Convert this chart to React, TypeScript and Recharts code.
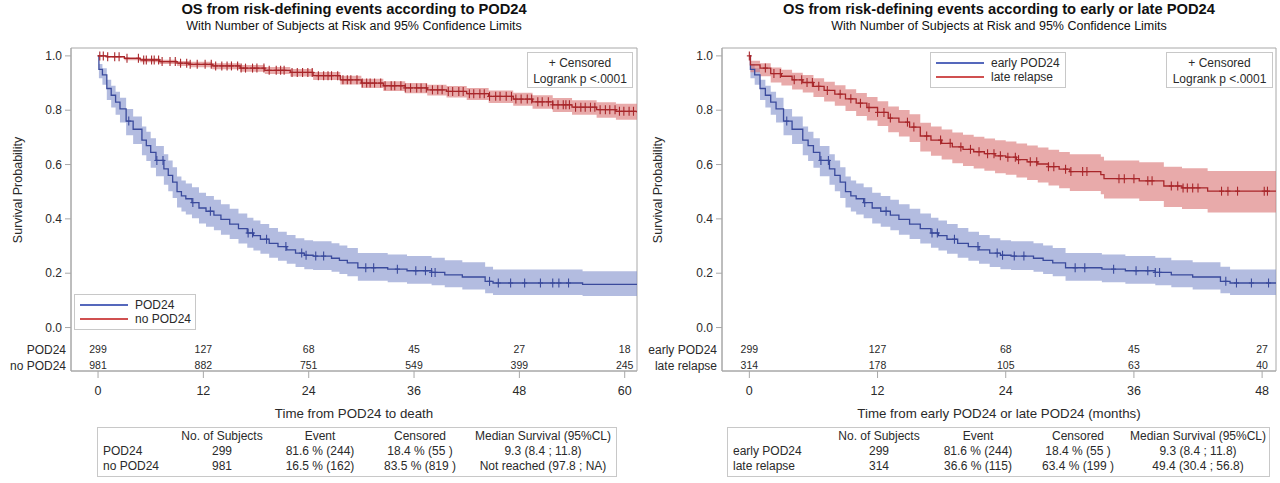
import React from 'react';
import { ComposedChart, Area, Line, Scatter, XAxis, YAxis, ReferenceArea } from 'recharts';

// Kaplan-Meier estimates: [month, survival, lower 95% CL, upper 95% CL]
const pod24Km: [number, number, number, number][] = [
  [0, 1.0, 1.0, 1.0],
  [0.1, 0.95, 0.918, 0.97],
  [0.5, 0.93, 0.894, 0.954],
  [1.0, 0.88, 0.838, 0.912],
  [1.5, 0.855, 0.81, 0.89],
  [2.0, 0.83, 0.783, 0.868],
  [2.5, 0.805, 0.755, 0.846],
  [3.2, 0.76, 0.708, 0.804],
  [4.0, 0.73, 0.676, 0.777],
  [5.0, 0.69, 0.634, 0.74],
  [5.5, 0.67, 0.613, 0.721],
  [6.0, 0.645, 0.588, 0.697],
  [6.6, 0.615, 0.557, 0.668],
  [7.5, 0.584, 0.526, 0.638],
  [8.0, 0.56, 0.502, 0.615],
  [8.5, 0.535, 0.477, 0.59],
  [9.0, 0.5, 0.442, 0.556],
  [9.5, 0.485, 0.427, 0.541],
  [10.0, 0.474, 0.416, 0.53],
  [10.7, 0.46, 0.402, 0.516],
  [11.5, 0.44, 0.383, 0.496],
  [12.3, 0.428, 0.371, 0.484],
  [13.2, 0.414, 0.358, 0.47],
  [14.0, 0.398, 0.342, 0.454],
  [15.0, 0.381, 0.326, 0.437],
  [16.0, 0.364, 0.309, 0.42],
  [17.0, 0.348, 0.294, 0.404],
  [17.7, 0.338, 0.284, 0.394],
  [18.5, 0.325, 0.272, 0.381],
  [19.5, 0.31, 0.257, 0.366],
  [20.5, 0.298, 0.246, 0.353],
  [21.5, 0.286, 0.235, 0.341],
  [22.5, 0.274, 0.223, 0.329],
  [23.5, 0.266, 0.215, 0.321],
  [24.5, 0.263, 0.212, 0.318],
  [26.6, 0.255, 0.205, 0.31],
  [27.5, 0.247, 0.197, 0.302],
  [28.4, 0.238, 0.189, 0.293],
  [29.6, 0.22, 0.172, 0.274],
  [33.0, 0.215, 0.167, 0.269],
  [35.2, 0.209, 0.161, 0.263],
  [38.0, 0.203, 0.156, 0.257],
  [39.5, 0.194, 0.148, 0.248],
  [41.5, 0.186, 0.14, 0.24],
  [44.1, 0.17, 0.126, 0.224],
  [45.0, 0.164, 0.12, 0.214],
  [55.2, 0.159, 0.116, 0.207],
  [61.6, 0.158, 0.115, 0.206],
];

const noPod24Km: [number, number, number, number][] = [
  [0, 1.0, 1.0, 1.0],
  [1.0, 0.997, 0.992, 0.999],
  [3.0, 0.991, 0.984, 0.995],
  [4.8, 0.985, 0.977, 0.991],
  [7.0, 0.979, 0.97, 0.986],
  [9.0, 0.973, 0.963, 0.981],
  [10.5, 0.969, 0.958, 0.978],
  [13.0, 0.963, 0.951, 0.973],
  [16.2, 0.955, 0.942, 0.966],
  [19.0, 0.947, 0.933, 0.959],
  [21.9, 0.939, 0.924, 0.952],
  [24.5, 0.927, 0.911, 0.941],
  [27.6, 0.912, 0.895, 0.927],
  [30.0, 0.9, 0.882, 0.916],
  [32.5, 0.89, 0.871, 0.907],
  [35.0, 0.882, 0.862, 0.9],
  [37.5, 0.875, 0.854, 0.894],
  [39.7, 0.869, 0.847, 0.889],
  [42.0, 0.861, 0.838, 0.882],
  [44.5, 0.851, 0.827, 0.873],
  [47.3, 0.841, 0.816, 0.864],
  [49.5, 0.831, 0.805, 0.855],
  [51.8, 0.82, 0.793, 0.845],
  [54.0, 0.811, 0.783, 0.837],
  [56.8, 0.802, 0.772, 0.829],
  [59.0, 0.796, 0.765, 0.824],
  [61.4, 0.792, 0.761, 0.82],
];

const lateRelapseKm: [number, number, number, number][] = [
  [0, 1.0, 1.0, 1.0],
  [0.1, 0.967, 0.94, 0.982],
  [1.0, 0.955, 0.925, 0.973],
  [2.0, 0.935, 0.902, 0.957],
  [3.0, 0.925, 0.891, 0.949],
  [4.0, 0.912, 0.876, 0.938],
  [5.0, 0.902, 0.865, 0.93],
  [6.0, 0.888, 0.849, 0.918],
  [7.0, 0.873, 0.832, 0.905],
  [8.0, 0.859, 0.816, 0.892],
  [9.0, 0.842, 0.797, 0.877],
  [10.0, 0.826, 0.779, 0.863],
  [11.0, 0.81, 0.762, 0.849],
  [12.0, 0.792, 0.742, 0.833],
  [13.0, 0.771, 0.719, 0.814],
  [14.0, 0.756, 0.703, 0.801],
  [15.0, 0.738, 0.683, 0.785],
  [16.0, 0.705, 0.648, 0.754],
  [17.0, 0.69, 0.632, 0.74],
  [18.0, 0.678, 0.619, 0.729],
  [19.0, 0.665, 0.605, 0.718],
  [20.0, 0.656, 0.595, 0.71],
  [21.0, 0.647, 0.585, 0.702],
  [22.0, 0.64, 0.577, 0.696],
  [23.0, 0.632, 0.568, 0.689],
  [24.0, 0.627, 0.562, 0.685],
  [25.0, 0.618, 0.552, 0.677],
  [26.0, 0.61, 0.543, 0.67],
  [27.0, 0.602, 0.534, 0.663],
  [28.0, 0.592, 0.523, 0.654],
  [29.0, 0.583, 0.513, 0.646],
  [30.0, 0.574, 0.503, 0.638],
  [32.9, 0.563, 0.491, 0.629],
  [33.2, 0.548, 0.475, 0.615],
  [36.5, 0.54, 0.466, 0.608],
  [38.8, 0.521, 0.444, 0.592],
  [40.5, 0.514, 0.436, 0.586],
  [42.9, 0.502, 0.423, 0.576],
  [49.3, 0.502, 0.423, 0.576],
];

// censoring times (months)
const pod24Censored = [3.5, 6.7, 7.4, 10.8, 12.8, 17.1, 17.6, 19.2, 21.4, 23.2, 23.7, 24.8, 25.7, 30.5, 31.4, 34.1, 36.2, 37.3, 38.0, 38.4, 44.6, 45.6, 47.0, 48.6, 50.4, 51.8, 52.5, 53.6];
const noPod24Censored = [0.2, 0.6, 1.1, 1.9, 2.4, 3.3, 4.6, 5.2, 5.5, 6.1, 6.4, 6.9, 7.3, 8.2, 8.8, 9.4, 10.1, 10.5, 11.3, 12.2, 12.9, 13.4, 14.1, 14.7, 15.2, 15.9, 16.3, 16.8, 17.6, 18.1, 18.9, 19.5, 20.3, 20.8, 21.2, 22.1, 22.7, 23.3, 23.9, 24.4, 25.1, 25.7, 26.2, 26.6, 27.3, 27.9, 28.4, 28.8, 29.5, 30.1, 30.6, 31.0, 31.5, 32.2, 32.7, 33.4, 33.8, 34.5, 35.0, 35.6, 36.3, 36.8, 37.4, 38.1, 38.7, 39.2, 39.9, 40.4, 41.1, 41.6, 42.3, 42.8, 43.5, 44.0, 44.6, 45.3, 45.8, 46.5, 47.1, 47.6, 48.2, 48.9, 49.4, 50.1, 50.6, 51.3, 51.8, 52.4, 53.0, 53.3, 53.7, 54.4, 55.0, 55.5, 56.1, 56.6, 57.2, 57.8, 58.3, 58.9, 59.4, 59.9, 60.5, 61.0];
const lateRelapseCensored = [0, 1.5, 2.3, 2.9, 4.2, 4.9, 5.4, 5.9, 6.5, 7.3, 8.5, 9.5, 10.4, 11.2, 12, 12.6, 13.2, 14.8, 15.4, 16.6, 17.9, 18.8, 19.8, 20.7, 21.5, 22.3, 22.9, 23.5, 24.2, 24.9, 25.2, 26.3, 26.9, 28, 28.5, 29.6, 30.1, 31.2, 31.6, 34.6, 35.1, 36, 37.3, 37.7, 39.5, 40.1, 40.6, 41, 41.5, 42, 44.2, 44.8, 45.7, 48.2, 48.5];

const leftTicks = [0, 12, 24, 36, 48, 60];
const rightTicks = [0, 12, 24, 36, 48];
const yTicks = [0, 0.2, 0.4, 0.6, 0.8, 1.0];

const atRiskPod24 = [299, 127, 68, 45, 27, 18];
const atRiskNoPod24 = [981, 882, 751, 549, 399, 245];
const atRiskEarly = [299, 127, 68, 45, 27];
const atRiskLate = [314, 178, 105, 63, 40];

const tableHeader = ['', 'No. of Subjects', 'Event', 'Censored', 'Median Survival (95%CL)'];
const leftTable = [
  ['POD24', '299', '81.6 % (244)', '18.4 % (55 )', '9.3 (8.4 ; 11.8)'],
  ['no POD24', '981', '16.5 % (162)', '83.5 % (819 )', 'Not reached (97.8 ; NA)'],
];
const rightTable = [
  ['early POD24', '299', '81.6 % (244)', '18.4 % (55 )', '9.3 (8.4 ; 11.8)'],
  ['late relapse', '314', '36.6 % (115)', '63.4 % (199 )', '49.4 (30.4 ; 56.8)'],
];

const FONT = "'Liberation Sans', Arial, sans-serif";
const BLUE = '#3a4a9c';
const RED = '#a8262a';
const BLUE_LEGEND = '#5568bc';
const RED_LEGEND = '#d05050';
const BLUE_BAND = '#8090cc';
const RED_BAND = '#d97272';
const FRAME = '#a8a8a8';
const TEXT = '#2a2a2a';

const Y_DOMAIN: [number, number] = [-0.16, 1.029];
const ROW1_Y = -0.079;
const ROW2_Y = -0.137;

const toRows = (km: [number, number, number, number][]) =>
  km.map(([t, s, lo, hi]) => ({ t, s, band: [lo, hi] }));

const survAt = (km: [number, number, number, number][], t: number) => {
  let s = km[0][1];
  for (const p of km) {
    if (p[0] <= t) s = p[1];
    else break;
  }
  return s;
};

const plusShape = (color: string) => (props: any) => {
  const { cx, cy } = props;
  if (cx == null || cy == null) return <g />;
  return (
    <g stroke={color} strokeWidth={1.1}>
      <line x1={cx} y1={cy - 4.5} x2={cx} y2={cy + 4.5} />
      <line x1={cx - 2.5} y1={cy} x2={cx + 2.5} y2={cy} />
    </g>
  );
};

const countShape = (props: any) => {
  const { cx, cy, payload } = props;
  if (cx == null || cy == null) return <g />;
  return (
    <text x={cx} y={cy} textAnchor="middle" dominantBaseline="central" fontSize={10.5} fill={TEXT} fontFamily={FONT}>
      {payload.n}
    </text>
  );
};

interface Group {
  km: [number, number, number, number][];
  censored: number[];
  color: string;
  legendColor: string;
  band: string;
}

interface PanelProps {
  left: number;
  yAxisWidth: number;
  rightMargin: number;
  xDomain: [number, number];
  xTicks: number[];
  xLabel: string;
  title: string;
  groups: Group[];
  atRisk: number[][];
  rowLabels: string[];
  legend: { left: number; top: number; width: number };
  censorBox: { left: number; width: number };
  table: { left: number; width: number; cols: number[]; rows: string[][] };
}

function Panel(p: PanelProps) {
  const frameLeft = p.left + p.yAxisWidth;
  const frameRight = p.left + 640 - p.rightMargin;
  return (
    <>
      <div style={{ position: 'absolute', left: p.left, top: 0 }}>
        <ComposedChart width={640} height={483} margin={{ top: 48, right: p.rightMargin, left: 0, bottom: 61 }}>
          <XAxis
            type="number"
            dataKey="t"
            domain={p.xDomain}
            ticks={p.xTicks}
            interval={0}
            allowDataOverflow
            height={51}
            stroke={FRAME}
            tickSize={7}
            tickMargin={8}
            tick={{ fill: TEXT, fontSize: 12.5, fontFamily: FONT }}
            label={{ value: p.xLabel, position: 'insideBottom', offset: 4, fill: TEXT, fontSize: 13.3, fontFamily: FONT }}
          />
          <YAxis
            type="number"
            domain={Y_DOMAIN}
            ticks={yTicks}
            allowDataOverflow
            width={p.yAxisWidth}
            stroke={FRAME}
            tickSize={6}
            tickMargin={3}
            tickFormatter={(v: number) => v.toFixed(1)}
            tick={{ fill: TEXT, fontSize: 12, fontFamily: FONT }}
          />
          <ReferenceArea x1={p.xDomain[0]} x2={p.xDomain[1]} y1={Y_DOMAIN[0]} y2={Y_DOMAIN[1]} fill="none" stroke={FRAME} strokeWidth={1} ifOverflow="visible" />
          {p.groups.map((g, i) => (
            <Area
              key={'band' + i}
              data={toRows(g.km)}
              dataKey="band"
              type="stepAfter"
              fill={g.band}
              fillOpacity={0.6}
              stroke="none"
              isAnimationActive={false}
            />
          ))}
          {p.groups.map((g, i) => (
            <Line
              key={'line' + i}
              data={toRows(g.km)}
              dataKey="s"
              type="stepAfter"
              stroke={g.color}
              strokeWidth={1.3}
              dot={false}
              activeDot={false}
              isAnimationActive={false}
            />
          ))}
          {p.groups.map((g, i) => (
            <Scatter
              key={'cens' + i}
              data={g.censored.filter((t) => t <= p.xDomain[1]).map((t) => ({ t, s: survAt(g.km, t) }))}
              dataKey="s"
              shape={plusShape(g.color)}
              isAnimationActive={false}
            />
          ))}
          {p.atRisk.map((row, i) => (
            <Scatter
              key={'risk' + i}
              data={row.map((n, j) => ({ t: p.xTicks[j], y: i === 0 ? ROW1_Y : ROW2_Y, n }))}
              dataKey="y"
              shape={countShape}
              isAnimationActive={false}
            />
          ))}
        </ComposedChart>
      </div>

      {/* titles */}
      <div style={{ position: 'absolute', left: frameLeft, width: frameRight - frameLeft, top: 0, textAlign: 'center', fontFamily: FONT, color: '#111' }}>
        <div style={{ fontSize: 14.7, fontWeight: 'bold', lineHeight: '18px' }}>{p.title}</div>
        <div style={{ fontSize: 12.5, lineHeight: '16px' }}>With Number of Subjects at Risk and 95% Confidence Limits</div>
      </div>

      {/* y axis title */}
      <div style={{ position: 'absolute', left: p.left + 18, top: 190, transform: 'translate(-50%, -50%) rotate(-90deg)', whiteSpace: 'nowrap', fontFamily: FONT, fontSize: 12.5, color: TEXT }}>
        Survival Probability
      </div>

      {/* at-risk row labels */}
      {p.rowLabels.map((lab, i) => (
        <div key={lab} style={{ position: 'absolute', right: 1280 - frameLeft + 5, top: (i === 0 ? 350 : 366) - 8, lineHeight: '16px', fontFamily: FONT, fontSize: 12, color: TEXT, whiteSpace: 'nowrap' }}>
          {lab}
        </div>
      ))}

      {/* group legend */}
      <div style={{ position: 'absolute', left: p.legend.left, top: p.legend.top, width: p.legend.width, height: 36, border: '1px solid #c8c8c8', background: '#fff', fontFamily: FONT, fontSize: 12, color: TEXT, boxSizing: 'border-box', padding: '3px 0 0 5px' }}>
        {p.groups.map((g, i) => (
          <div key={i} style={{ display: 'flex', alignItems: 'center', height: 14 }}>
            <div style={{ width: 48, height: 2, background: g.legendColor, marginRight: 7 }} />
            <span>{p.rowLabels[i]}</span>
          </div>
        ))}
      </div>

      {/* censor / logrank box */}
      <div style={{ position: 'absolute', left: p.censorBox.left, top: 52, width: p.censorBox.width, height: 36, border: '1px solid #c8c8c8', background: '#fff', fontFamily: FONT, fontSize: 12, color: TEXT, textAlign: 'center', boxSizing: 'border-box', paddingTop: 2, lineHeight: '16px' }}>
        <div>+ Censored</div>
        <div>Logrank p &lt;.0001</div>
      </div>

      {/* summary table */}
      <div style={{ position: 'absolute', left: p.table.left, top: 427, width: p.table.width, height: 50, border: '1px solid #c8c8c8', boxSizing: 'border-box', fontFamily: FONT, fontSize: 12, color: TEXT, paddingTop: 1 }}>
        {[tableHeader, ...p.table.rows].map((row, r) => (
          <div key={r} style={{ display: 'flex', height: 15, lineHeight: '15px', whiteSpace: 'nowrap' }}>
            {row.map((cell, c) => (
              <div key={c} style={{ width: p.table.cols[c], textAlign: c === 0 ? 'left' : 'center', paddingLeft: c === 0 ? 5 : 0, boxSizing: 'border-box' }}>
                {cell}
              </div>
            ))}
          </div>
        ))}
      </div>
    </>
  );
}

export default function App() {
  return (
    <div style={{ position: 'absolute', left: 0, top: 0, width: 1280, height: 483, background: '#fff', overflow: 'hidden' }}>
      <Panel
        left={0}
        yAxisWidth={71}
        rightMargin={3}
        xDomain={[-3.08, 61.4]}
        xTicks={leftTicks}
        xLabel="Time from POD24 to death"
        title="OS from risk-defining events according to POD24"
        groups={[
          { km: pod24Km, censored: pod24Censored, color: BLUE, legendColor: BLUE_LEGEND, band: BLUE_BAND },
          { km: noPod24Km, censored: noPod24Censored, color: RED, legendColor: RED_LEGEND, band: RED_BAND },
        ]}
        atRisk={[atRiskPod24, atRiskNoPod24]}
        rowLabels={['POD24', 'no POD24']}
        legend={{ left: 74, top: 294, width: 122 }}
        censorBox={{ left: 527, width: 106 }}
        table={{ left: 97, width: 520, cols: [73, 102, 94, 106, 140], rows: leftTable }}
      />
      <Panel
        left={640}
        yAxisWidth={82}
        rightMargin={4}
        xDomain={[-2.56, 49.3]}
        xTicks={rightTicks}
        xLabel="Time from early POD24 or late POD24 (months)"
        title="OS from risk-defining events according to early or late POD24"
        groups={[
          { km: pod24Km, censored: pod24Censored, color: BLUE, legendColor: BLUE_LEGEND, band: BLUE_BAND },
          { km: lateRelapseKm, censored: lateRelapseCensored, color: RED, legendColor: RED_LEGEND, band: RED_BAND },
        ]}
        atRisk={[atRiskEarly, atRiskLate]}
        rowLabels={['early POD24', 'late relapse']}
        legend={{ left: 930, top: 52, width: 136 }}
        censorBox={{ left: 1166, width: 107 }}
        table={{ left: 727, width: 543, cols: [101, 100, 98, 102, 138], rows: rightTable }}
      />
    </div>
  );
}
